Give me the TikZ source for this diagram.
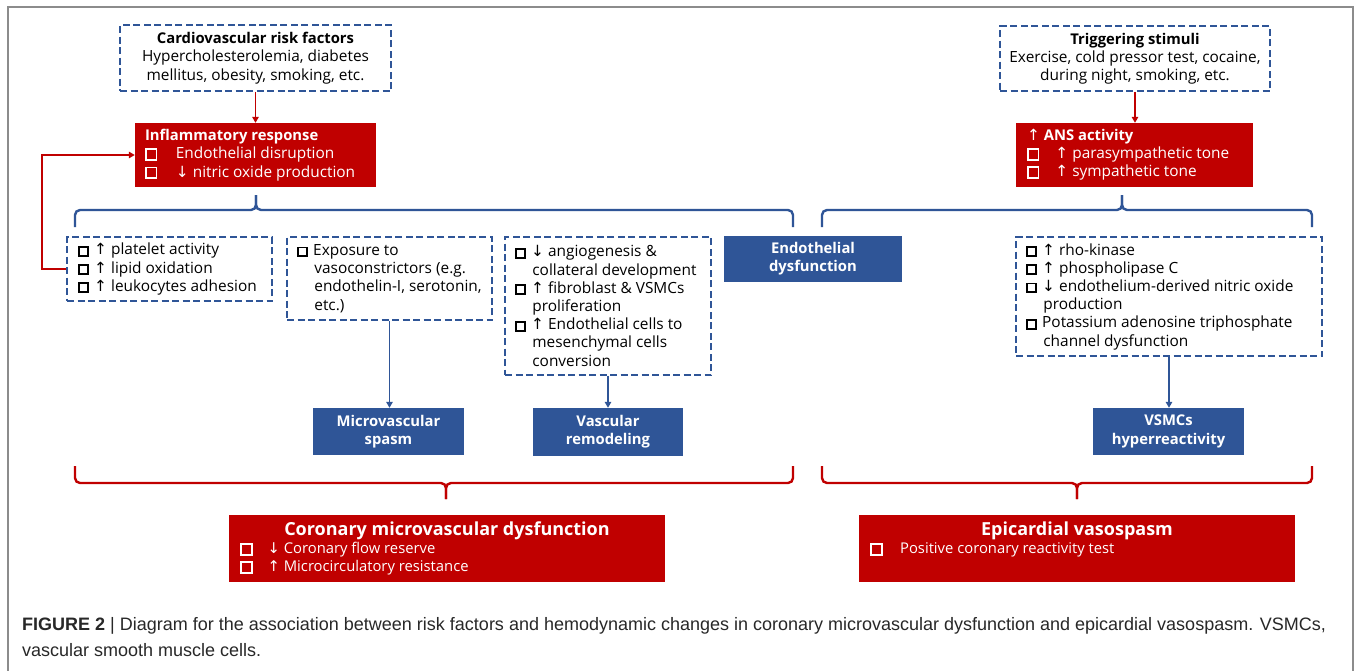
\documentclass[tikz,border=0pt]{standalone}
\usepackage{fontspec}
\setmainfont{Open Sans}
\newfontfamily\capfont{Liberation Sans}
\newfontfamily\arrfont{DejaVu Sans}
\usetikzlibrary{arrows.meta}
\definecolor{cred}{RGB}{192,0,0}
\definecolor{cblue}{RGB}{47,85,151}
\definecolor{dblue}{RGB}{47,85,151}
\definecolor{framegray}{RGB}{140,140,140}
\definecolor{captext}{RGB}{40,40,40}
\newcommand\fs{\fontsize{15.4}{18.2}\selectfont}
\newcommand\fsb{\fontsize{14.8}{18.2}\selectfont\bfseries}
\newcommand\sqbox[1][7pt]{{\setlength\fboxsep{0pt}\setlength\fboxrule{1.9pt}\fbox{\rule{0pt}{#1}\rule{#1}{0pt}}}}
\newcommand\rsq{\sqbox[8.6pt]}
\newcommand\bl{\sqbox\hspace{5pt}}
\newcommand\up{{\arrfont ↑}}
\newcommand\dn{{\arrfont ↓}}
\begin{document}
\begin{tikzpicture}[x=1pt,y=-1pt,
  dbox/.style={draw=dblue, line width=1.6pt, dash pattern=on 7pt off 3.5pt, inner sep=0pt},
  rbox/.style={fill=cred, inner sep=0pt},
  bbox/.style={fill=cblue, text=white, font=\fsb, align=center, inner sep=0pt},
  ltxt/.style={align=left, font=\fs, inner sep=0pt, anchor=west},
  rarrow/.style={draw=cred, line width=1.8pt, -{Triangle[length=6pt,width=6.5pt]}},
  barrow/.style={draw=cblue, line width=1.8pt, -{Triangle[length=6pt,width=6.5pt]}},
  bbrace/.style={draw=cblue, line width=2.4pt, rounded corners=5pt},
  rbrace/.style={draw=cred, line width=2.4pt, rounded corners=5pt}]
\useasboundingbox (0,0) rectangle (1358,670);
\fill[white] (0,0) rectangle (1358,670);
\draw[framegray, line width=2pt] (8,672) -- (8,7) -- (1353,7) -- (1353,672);

% top boxes
\node[dbox, minimum width=271pt, minimum height=66pt, font=\fs, align=center] (risk) at (255.5,58)
  {{\fsb Cardiovascular risk factors}\\Hypercholesterolemia, diabetes\\mellitus, obesity, smoking, etc.};
\node[dbox, minimum width=270pt, minimum height=65pt, font=\fs, align=center] (trig) at (1135,58.5)
  {{\fsb Triggering stimuli}\\Exercise, cold pressor test, cocaine,\\during night, smoking, etc.};

\node[rbox, minimum width=241pt, minimum height=64pt] (inflam) at (255.5,155) {};
\node[ltxt, text=white] (inflamtxt) at ([xshift=10pt]inflam.west)
  {{\fsb Inflammatory response}\\\rsq\hspace{18.5pt}Endothelial disruption\\\rsq\hspace{18.5pt}\dn\ nitric oxide production};
\node[rbox, minimum width=237pt, minimum height=64pt] (ans) at (1134.5,155) {};
\node[ltxt, text=white] (anstxt) at ([xshift=11pt]ans.west)
  {{\fs\up}\ {\fsb ANS activity}\\\rsq\hspace{16pt}\up\ parasympathetic tone\\\rsq\hspace{16pt}\up\ sympathetic tone};

\draw[rarrow] (risk.south) -- (risk.south |- inflam.north);
\draw[rarrow] (trig.south) -- (trig.south |- ans.north);

% middle dashed boxes
\node[dbox, minimum width=205pt, minimum height=64pt] (boxA) at (169.5,269) {};
\node[ltxt] (boxAtxt) at ([xshift=12pt]boxA.west)
  {\bl\up\ platelet activity\\\bl\up\ lipid oxidation\\\bl\up\ leukocytes adhesion};
\node[dbox, minimum width=205pt, minimum height=83pt] (boxB) at (389.5,278.5) {};
\node[ltxt] (boxBtxt) at ([xshift=11pt]boxB.west)
  {\bl Exposure to\\\hspace*{17pt}vasoconstrictors (e.g.\\\hspace*{17pt}endothelin-I, serotonin,\\\hspace*{17pt}etc.)};
\node[dbox, minimum width=206pt, minimum height=138pt] (boxC) at (608,306) {};
\node[ltxt] (boxCtxt) at ([xshift=11pt]boxC.west)
  {\bl\dn\ angiogenesis \&\\\hspace*{17pt}collateral development\\\bl\up\ fibroblast \& VSMCs\\\hspace*{17pt}proliferation\\\bl\up\ Endothelial cells to\\\hspace*{17pt}mesenchymal cells\\\hspace*{17pt}conversion};
\node[dbox, minimum width=306pt, minimum height=119pt] (boxD) at (1169,296.5) {};
\node[ltxt] (boxDtxt) at ([xshift=11pt]boxD.west)
  {\bl\up\ rho-kinase\\\bl\up\ phospholipase C\\\bl\dn\ endothelium-derived nitric oxide\\\hspace*{17pt}production\\\bl Potassium adenosine triphosphate\\\hspace*{17pt}channel dysfunction};

\node[bbox, minimum width=178pt, minimum height=46pt] (endo) at (813,259) {Endothelial\\dysfunction};
\node[bbox, minimum width=151pt, minimum height=47pt] (micro) at (388.5,431.5) {Microvascular\\spasm};
\node[bbox, minimum width=150pt, minimum height=48pt] (remod) at (608,432) {Vascular\\remodeling};
\node[bbox, minimum width=151pt, minimum height=47pt] (vsmc) at (1168.5,431.5) {VSMCs\\hyperreactivity};

\draw[barrow] (boxB.south) -- (boxB.south |- micro.north);
\draw[barrow] (boxC.south) -- (boxC.south |- remod.north);
\draw[barrow] (boxD.south) -- (boxD.south |- vsmc.north);

% feedback arrow
\coordinate (fb) at (42,269);
\draw[rarrow] (boxA.west) -- (fb) |- (inflam.west);

% braces
\draw[bbrace] (75,227) |- (256,210) -- (256,195);
\draw[bbrace] (256,195) -- (256,210) -| (793,227);
\draw[bbrace] (822,227) |- (1122,210) -- (1122,195);
\draw[bbrace] (1122,195) -- (1122,210) -| (1312,227);
\draw[rbrace] (75,466) |- (446,483) -- (446,499);
\draw[rbrace] (446,499) -- (446,483) -| (793,466);
\draw[rbrace] (822,466) |- (1077,483) -- (1077,499);
\draw[rbrace] (1077,499) -- (1077,483) -| (1312,466);

% bottom boxes
\node[rbox, minimum width=436pt, minimum height=67pt] (cmd) at (447,548.5) {};
\node[font=\bfseries\fontsize{18}{22}\selectfont, text=white, inner sep=0pt] (cmdtitle) at (447,531) {Coronary microvascular dysfunction};
\node[ltxt, font=\fontsize{14.8}{18}\selectfont, text=white] (cmdtxt) at (240,559)
  {\rsq\hspace{15pt}\dn\ Coronary flow reserve\\\rsq\hspace{15pt}\up\ Microcirculatory resistance};
\node[rbox, minimum width=436pt, minimum height=67pt] (epi) at (1077,548.5) {};
\node[font=\bfseries\fontsize{18}{22}\selectfont, text=white, inner sep=0pt] (epititle) at (1077,531) {Epicardial vasospasm};
\node[ltxt, font=\fontsize{14.8}{18}\selectfont, text=white] (epitxt) at (870,550)
  {\rsq\hspace{17.5pt}Positive coronary reactivity test};

% caption
\node[anchor=base west, font=\capfont\fontsize{18}{20}\selectfont, text=captext, inner sep=0pt] (cap1) at (22,630)
  {\textbf{FIGURE 2} | Diagram for the association between risk factors and hemodynamic changes in coronary microvascular dysfunction and epicardial vasospasm. VSMCs,};
\node[anchor=base west, font=\capfont\fontsize{18}{20}\selectfont, text=captext, inner sep=0pt] (cap2) at (22,656)
  {vascular smooth muscle cells.};
\end{tikzpicture}
\end{document}
